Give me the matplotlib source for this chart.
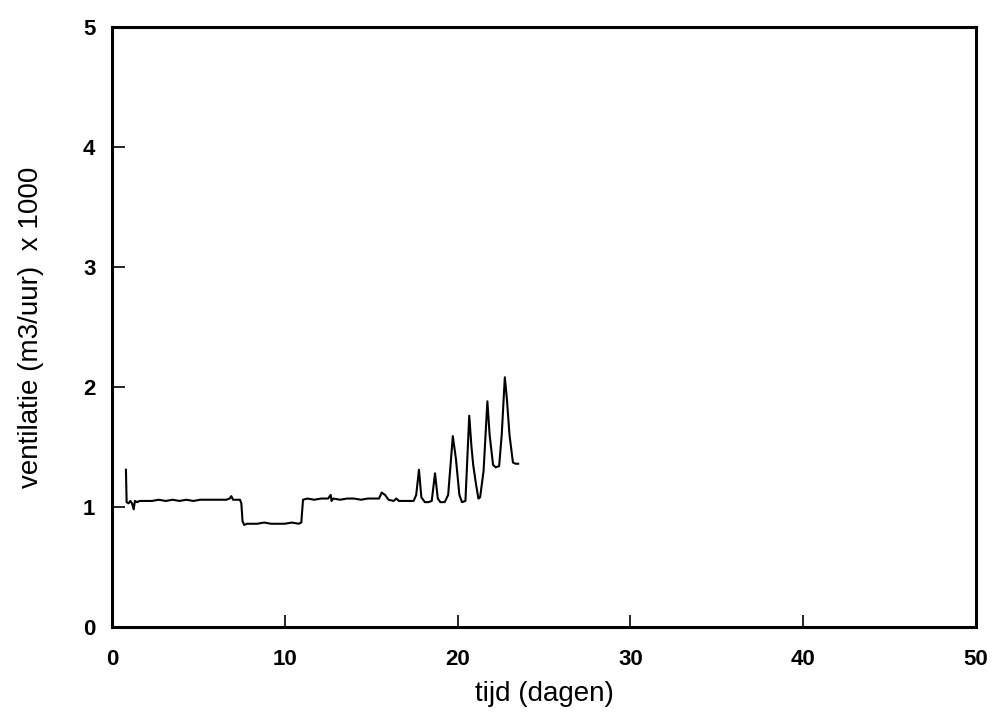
import matplotlib.pyplot as plt

# gemeten ventilatie (x 1000 m3/uur) tegen tijd in dagen
dagen = [0.80, 0.84, 0.95, 1.05, 1.15, 1.25, 1.32, 1.45, 1.6, 1.9, 2.3, 2.7,
         3.1, 3.5, 3.9, 4.3, 4.7, 5.1, 5.5, 5.9, 6.3, 6.6, 6.8, 6.9, 7.0, 7.2,
         7.4, 7.48, 7.55, 7.65, 7.8, 8.0, 8.4, 8.8, 9.2, 9.6, 10.0, 10.4, 10.8,
         10.95, 11.05, 11.3, 11.7, 12.1, 12.5, 12.65, 12.7, 12.8, 13.2, 13.6,
         14.0, 14.4, 14.8, 15.2, 15.45, 15.6, 15.8, 16.0, 16.3, 16.45, 16.6,
         16.9, 17.2, 17.45, 17.6, 17.76, 17.9, 18.1, 18.3, 18.5, 18.69, 18.85,
         19.0, 19.25, 19.45, 19.72, 19.9, 20.1, 20.25, 20.45, 20.67, 20.8,
         20.9, 21.05, 21.2, 21.3, 21.5, 21.72, 21.85, 22.05, 22.2, 22.4, 22.55,
         22.73, 22.85, 23.0, 23.2, 23.35, 23.5]
ventilatie = [1.31, 1.04, 1.03, 1.05, 1.03, 0.98, 1.05, 1.04, 1.05, 1.05,
              1.05, 1.06, 1.05, 1.06, 1.05, 1.06, 1.05, 1.06, 1.06, 1.06, 1.06,
              1.06, 1.07, 1.09, 1.06, 1.06, 1.06, 1.03, 0.88, 0.85, 0.86, 0.86,
              0.86, 0.87, 0.86, 0.86, 0.86, 0.87, 0.86, 0.87, 1.06, 1.07, 1.06,
              1.07, 1.07, 1.10, 1.05, 1.07, 1.06, 1.07, 1.07, 1.06, 1.07, 1.07,
              1.07, 1.12, 1.10, 1.06, 1.05, 1.07, 1.05, 1.05, 1.05, 1.05, 1.10,
              1.31, 1.08, 1.04, 1.04, 1.05, 1.28, 1.07, 1.04, 1.04, 1.10, 1.59,
              1.40, 1.10, 1.04, 1.05, 1.76, 1.50, 1.35, 1.20, 1.07, 1.08, 1.30,
              1.88, 1.60, 1.35, 1.33, 1.34, 1.60, 2.08, 1.90, 1.60, 1.37, 1.36,
              1.36]

x_ticks = [0, 10, 20, 30, 40, 50]
y_ticks = [0, 1, 2, 3, 4, 5]

plt.rcParams['font.family'] = ['Liberation Sans', 'DejaVu Sans']

fig = plt.figure(figsize=(10.01, 7.24), dpi=100)
ax = fig.add_axes([0.112, 0.134, 0.863, 0.829])

ax.plot(dagen, ventilatie, color='black', linewidth=1.5)

ax.set_xlim(0, 50)
ax.set_ylim(0, 5)
ax.set_xticks(x_ticks)
ax.set_yticks(y_ticks)
ax.tick_params(direction='in', length=9, width=1.2, labelsize=16)
ax.tick_params(axis='x', pad=16)
ax.tick_params(axis='y', pad=12)
for lbl in ax.get_xticklabels() + ax.get_yticklabels():
    lbl.set_fontweight('bold')
for s in ax.spines.values():
    s.set_linewidth(2.2)

ax.set_xlabel('tijd (dagen)', fontsize=20, labelpad=8)
ax.set_ylabel('ventilatie (m3/uur)  x 1000', fontsize=20, labelpad=28)

fig.savefig('out.png', dpi=100)
